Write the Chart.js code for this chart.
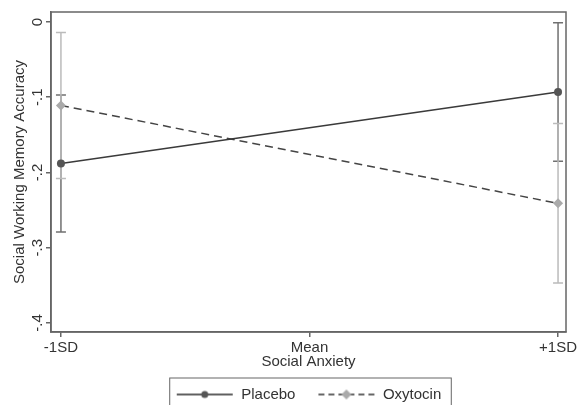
<!DOCTYPE html>
<html>
<head>
<meta charset="utf-8">
<script src="https://cdn.jsdelivr.net/npm/chart.js@4/dist/chart.umd.min.js"></script>
<style>
  html, body { margin: 0; padding: 0; background: #fff; overflow: hidden; }
  #wrap { width: 577px; height: 405px; overflow: hidden; }
</style>
</head>
<body>
<div id="wrap"><canvas id="chart" width="577" height="412"></canvas></div>
<script>
// data
const xTicks = [-1, 0, 1];
const xLabels = ['-1SD', 'Mean', '+1SD'];
const yTicks = [0, -0.1, -0.2, -0.3, -0.4];
const yLabels = ['0', '-.1', '-.2', '-.3', '-.4'];

const xPoints = [-1, 1];
const placebo = [-0.188, -0.093];
const placeboLow = [-0.279, -0.185];
const placeboHigh = [-0.097, -0.001];
const oxytocin = [-0.111, -0.241];
const oxytocinLow = [-0.208, -0.347];
const oxytocinHigh = [-0.014, -0.135];

const FONT = '"Liberation Sans", Arial, Helvetica, sans-serif';
const TEXT = '#333';
const AXIS = '#666';

// little canvas used as legend key: line + marker
function legendKey(dash, lineColor, marker, markerColor) {
    const c = document.createElement('canvas');
    c.width = 58; c.height = 12;
    const g = c.getContext('2d');
    g.strokeStyle = lineColor;
    g.lineWidth = 2;
    g.setLineDash(dash);
    g.beginPath();
    g.moveTo(1, 6); g.lineTo(57, 6);
    g.stroke();
    g.fillStyle = markerColor;
    g.beginPath();
    if (marker === 'circle') {
        g.arc(29, 6, 3.5, 0, Math.PI * 2);
    } else {
        g.moveTo(29, 1); g.lineTo(34, 6); g.lineTo(29, 11); g.lineTo(24, 6); g.closePath();
    }
    g.fill();
    return c;
}

// error bars, drawn under the lines and markers
const errorBars = {
    id: 'errorBars',
    beforeDatasetsDraw(chart) {
        const { ctx, scales: { x, y } } = chart;
        chart.data.datasets.forEach(ds => {
            ctx.save();
            ctx.strokeStyle = ds.errColor;
            ctx.lineWidth = 1.5;
            ds.data.forEach((p, i) => {
                const px = x.getPixelForValue(p.x);
                const y1 = y.getPixelForValue(ds.errLow[i]);
                const y2 = y.getPixelForValue(ds.errHigh[i]);
                ctx.beginPath();
                ctx.moveTo(px, y1); ctx.lineTo(px, y2);
                ctx.moveTo(px - 5, y1); ctx.lineTo(px + 5, y1);
                ctx.moveTo(px - 5, y2); ctx.lineTo(px + 5, y2);
                ctx.stroke();
            });
            ctx.restore();
        });
    }
};

// frame around plot region and legend
const frames = {
    id: 'frames',
    afterDraw(chart) {
        const { ctx, chartArea: a } = chart;
        ctx.save();
        ctx.strokeStyle = AXIS;
        ctx.lineWidth = 1.5;
        ctx.strokeRect(a.left, a.top, a.right - a.left, a.bottom - a.top);
        const hb = chart.legend.legendHitBoxes;
        if (hb && hb.length) {
            const l = Math.min(...hb.map(h => h.left)) - 6;
            const r = Math.max(...hb.map(h => h.left + h.width)) + 10;
            const t = Math.min(...hb.map(h => h.top)) - 9;
            const b = Math.max(...hb.map(h => h.top + h.height)) + 9;
            ctx.lineWidth = 1;
            ctx.strokeRect(l, t, r - l, b - t);
        }
        ctx.restore();
    }
};

new Chart(document.getElementById('chart'), {
    type: 'line',
    data: {
        datasets: [
            {
                label: 'Placebo',
                data: xPoints.map((v, i) => ({ x: v, y: placebo[i] })),
                errLow: placeboLow,
                errHigh: placeboHigh,
                errColor: '#707070',
                borderColor: '#3a3a3a',
                borderWidth: 1.5,
                pointStyle: 'circle',
                pointRadius: 4,
                pointBackgroundColor: '#555',
                pointBorderWidth: 0,
                legendKey: legendKey([], '#606060', 'circle', '#555')
            },
            {
                label: 'Oxytocin',
                data: xPoints.map((v, i) => ({ x: v, y: oxytocin[i] })),
                errLow: oxytocinLow,
                errHigh: oxytocinHigh,
                errColor: '#bbb',
                borderColor: '#444',
                borderWidth: 1.5,
                borderDash: [8, 5],
                pointStyle: 'rectRot',
                pointRadius: 5,
                pointBackgroundColor: '#aaa',
                pointBorderWidth: 0,
                legendKey: legendKey([6, 4], '#666', 'diamond', '#aaa')
            }
        ]
    },
    options: {
        responsive: false,
        animation: false,
        devicePixelRatio: 1,
        layout: { padding: { top: 12, right: 0, left: 12, bottom: 0 } },
        scales: {
            x: {
                type: 'linear',
                min: -1.04,
                max: 1.032,
                afterBuildTicks: s => { s.ticks = xTicks.map(v => ({ value: v })); },
                // let the "+1SD" label hang a bit further past the frame, like the original
                afterFit: s => { s.paddingRight = 11; },
                ticks: {
                    callback: v => xLabels[xTicks.indexOf(v)],
                    color: TEXT,
                    font: { family: FONT, size: 15 },
                    padding: 2,
                    maxRotation: 0
                },
                grid: { drawOnChartArea: false, drawTicks: true, tickLength: 5, color: AXIS, lineWidth: 1.5 },
                border: { color: AXIS, width: 1.5 },
                title: {
                    display: true,
                    text: 'Social Anxiety',
                    color: TEXT,
                    font: { family: FONT, size: 15 },
                    padding: { top: -6, bottom: -6 }
                }
            },
            y: {
                min: -0.412,
                max: 0.0133,
                afterBuildTicks: s => { s.ticks = yTicks.map(v => ({ value: v })); },
                ticks: {
                    callback: v => yLabels[yTicks.indexOf(v)],
                    color: TEXT,
                    font: { family: FONT, size: 15 },
                    minRotation: 90,
                    maxRotation: 90,
                    crossAlign: 'center',
                    padding: -1
                },
                grid: { drawOnChartArea: false, drawTicks: true, tickLength: 5, color: AXIS, lineWidth: 1.5 },
                border: { color: AXIS, width: 1.5 },
                title: {
                    display: true,
                    text: 'Social Working Memory Accuracy',
                    color: TEXT,
                    font: { family: FONT, size: 15 },
                    padding: { top: -1, bottom: 1 }
                }
            }
        },
        plugins: {
            tooltip: { enabled: false },
            legend: {
                position: 'bottom',
                fullSize: false,
                labels: {
                    usePointStyle: true,
                    pointStyleWidth: 58,
                    boxHeight: 12,
                    padding: 22,
                    color: TEXT,
                    font: { family: FONT, size: 15 },
                    generateLabels: chart => chart.data.datasets.map((ds, i) => ({
                        text: ds.label,
                        pointStyle: ds.legendKey,
                        fontColor: TEXT,
                        lineWidth: 0,
                        datasetIndex: i
                    }))
                }
            }
        }
    },
    plugins: [errorBars, frames]
});
</script>
</body>
</html>
